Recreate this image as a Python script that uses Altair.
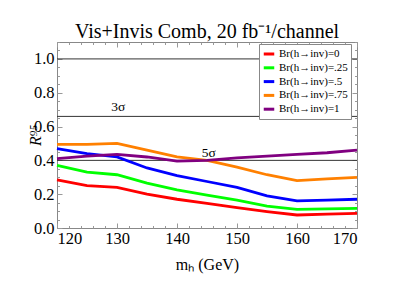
import altair as alt
import pandas as pd

# ---- data ----
mass = [120, 125, 130, 135, 140, 145, 150, 155, 160, 165, 170]
series_names = ["Br(h\u2192inv)=0", "Br(h\u2192inv)=.25", "Br(h\u2192inv)=.5",
                "Br(h\u2192inv)=.75", "Br(h\u2192inv)=1"]
r_br0 = [0.285, 0.25, 0.24, 0.20, 0.17, 0.145, 0.12, 0.097, 0.077, 0.082, 0.087]
r_br25 = [0.37, 0.33, 0.315, 0.265, 0.225, 0.195, 0.165, 0.13, 0.11, 0.113, 0.116]
r_br5 = [0.47, 0.44, 0.42, 0.355, 0.31, 0.275, 0.24, 0.19, 0.16, 0.165, 0.17]
r_br75 = [0.495, 0.495, 0.50, 0.46, 0.42, 0.40, 0.36, 0.315, 0.28, 0.29, 0.30]
r_br1 = [0.41, 0.425, 0.435, 0.42, 0.395, 0.40, 0.415, 0.425, 0.435, 0.445, 0.46]
colors = ["#FF0000", "#00FF00", "#0000FF", "#FF8000", "#800080"]

sigma_levels = [1.0, 0.66, 0.40]
sigma_text = ["3\u03c3", "5\u03c3"]
sigma_x = [130.2, 145.3]
sigma_y = [0.69, 0.42]

x_labels = [120, 130, 140, 150, 160, 170]
x_minor = list(range(120, 171, 2))
y_labels = [0.0, 0.2, 0.4, 0.6, 0.8, 1.0]
y_minor = [round(i * 0.05, 2) for i in range(0, 23)]

rows = []
for name, vals in zip(series_names, [r_br0, r_br25, r_br5, r_br75, r_br1]):
    for m, v in zip(mass, vals):
        rows.append({"mh": m, "R": v, "series": name})
df = pd.DataFrame(rows)
hdf = pd.DataFrame({"level": sigma_levels})
tdf = pd.DataFrame({"t": sigma_text, "mh": sigma_x, "R": sigma_y})

W, H = 300, 186
FONT = "Liberation Serif"
xs = alt.Scale(domain=[120, 170], nice=False, zero=False)
ys = alt.Scale(domain=[0, 1.1], nice=False)


def tick_axis(orient, values, size, offset):
    return alt.Axis(orient=orient, values=values, tickSize=size, offset=offset,
                    labels=False, domain=False, grid=False, title=None,
                    ticks=True, tickColor="#999", tickWidth=1)


lines = alt.Chart(df).mark_line(strokeWidth=2.8).encode(
    x=alt.X("mh:Q", scale=xs, axis=alt.Axis(
        orient="bottom", values=x_labels, ticks=False, domain=False, grid=False,
        labelFont=FONT, labelFontSize=16.5, labelPadding=2, labelColor="#000",
        title="m\u2095 (GeV)", titleFont=FONT, titleFontSize=16,
        titleFontWeight="normal", titleColor="#000", titleX=150, titleY=41,
        titleBaseline="alphabetic", titleAlign="center")),
    y=alt.Y("R:Q", scale=ys, axis=alt.Axis(
        orient="left", values=y_labels, format=".1f", ticks=False, domain=False,
        grid=False, labelFont=FONT, labelFontSize=16.5, labelPadding=3,
        labelColor="#000", title="R\u2079\u2075", titleFont=FONT,
        titleFontSize=16, titleFontStyle="italic", titleFontWeight="normal",
        titleColor="#000", titleAngle=270, titleX=-22, titleY=93,
        titleAlign="center", titleBaseline="middle")),
    color=alt.Color("series:N", scale=alt.Scale(domain=series_names, range=colors),
                    legend=alt.Legend(orient="none", legendX=202, legendY=2,
                                      title=None, symbolType="stroke",
                                      symbolStrokeWidth=3, symbolSize=110,
                                      labelFont=FONT, labelFontSize=11,
                                      labelColor="#000", fillColor="white",
                                      strokeColor="#888", padding=3,
                                      rowPadding=0.8, labelOffset=3)),
)

rules = alt.Chart(hdf).mark_rule(color="#333", strokeWidth=1).encode(
    y=alt.Y("level:Q", scale=ys, axis=None))

texts = alt.Chart(tdf).mark_text(font=FONT, fontSize=13.5, color="#000",
                                 baseline="alphabetic").encode(
    x=alt.X("mh:Q", scale=xs, axis=None),
    y=alt.Y("R:Q", scale=ys, axis=None),
    text="t:N")


def tick_layer(xa, ya):
    return alt.Chart(df).mark_point(opacity=0).encode(
        x=alt.X("mh:Q", scale=xs, axis=xa),
        y=alt.Y("R:Q", scale=ys, axis=ya))


t1 = tick_layer(tick_axis("top", x_labels, 5, -H), tick_axis("right", y_labels, 5, -W))
t2 = tick_layer(tick_axis("top", x_minor, 2.5, -H), tick_axis("right", y_minor, 2.5, -W))
t3 = tick_layer(tick_axis("bottom", x_labels, 5, -H), tick_axis("left", y_labels, 5, -W))
t4 = tick_layer(tick_axis("bottom", x_minor, 2.5, -H), tick_axis("left", y_minor, 2.5, -W))

chart = alt.layer(rules, t1, t2, t3, t4, lines, texts).resolve_axis(
    x="independent", y="independent"
).properties(
    width=W, height=H,
    title=alt.TitleParams("Vis+Invis Comb, 20 fb\u207b\u00b9/channel", font=FONT,
                          fontSize=20, fontWeight="normal", color="#000",
                          anchor="middle", offset=5, dy=21, baseline="alphabetic",
                          frame="group"),
    padding={"left": 49, "top": 34, "right": 52, "bottom": 62},
    autosize=alt.AutoSizeParams(type="none"),
).configure_view(stroke="#888", strokeWidth=1).configure_axis(
    labelFont=FONT, titleFont=FONT).configure_text(font=FONT)

chart.save("out.html", embed_options={"renderer": "svg", "actions": False})
